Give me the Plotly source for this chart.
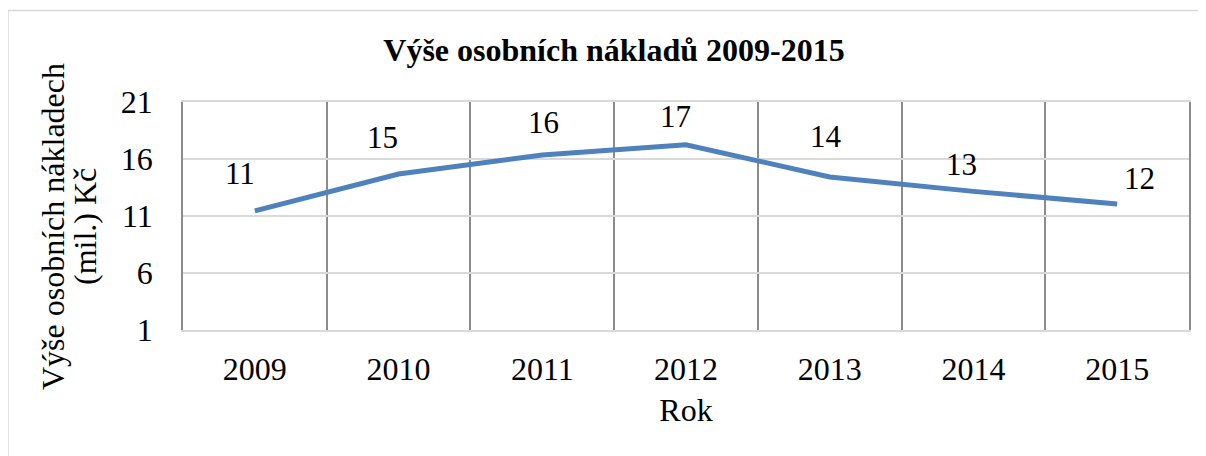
import plotly.graph_objects as go

years = ["2009", "2010", "2011", "2012", "2013", "2014", "2015"]
costs = [11.45, 14.68, 16.35, 17.25, 14.42, 13.16, 12.05]
y_ticks = [1, 6, 11, 16, 21]

title_text = "Výše osobních nákladů 2009-2015"
x_title = "Rok"
y_title_lines = ["Výše osobních nákladech", "(mil.) Kč"]

# label offsets (style only)
label_dx = [-15, -16, 1, -11, -4, -12, 22]
label_dy = [37, 37, 33, 28, 41, 27, 26]

FONT = "Liberation Serif"
OFF = 8  # page body margin
W, H = 1206 - OFF, 456 - OFF
# plot area in page pixels: x 183..1189, y 102..330
ML = 183 - OFF
MR = 1206 - 1189
MT = 102 - OFF
MB = 456 - 330

fig = go.Figure()
fig.add_trace(go.Scatter(
    x=years, y=costs, mode="lines",
    line=dict(color="#4f81bd", width=5),
    hoverinfo="skip", showlegend=False,
))

for i, (yv, dx, dy) in enumerate(zip(costs, label_dx, label_dy)):
    fig.add_annotation(x=i, y=yv, xref="x", yref="y", text=f"{yv:.0f}",
                       showarrow=False, xshift=dx, yshift=dy,
                       xanchor="center", yanchor="middle",
                       font=dict(family=FONT, size=31, color="#000000"))

pw = W - ML - MR
ph = H - MT - MB

def px_x(p):
    return (p - OFF - ML) / pw

def px_y(p):
    return (H - MB - (p - OFF)) / ph

# outer chart border
fig.add_shape(type="rect", xref="paper", yref="paper",
              x0=px_x(8), x1=px_x(1240), y0=px_y(490), y1=px_y(10.5),
              line=dict(color="#d9d9d9", width=1.5), fillcolor="rgba(0,0,0,0)", layer="below")

# y-axis title (two lines)
for line_text, cx in zip(y_title_lines, [53, 85]):
    fig.add_annotation(xref="paper", yref="paper", x=px_x(cx), y=px_y(227),
                       text=line_text, textangle=-90, showarrow=False,
                       xanchor="center", yanchor="middle",
                       font=dict(family=FONT, size=32, color="#000000"))

fig.update_layout(
    width=W, height=H,
    margin=dict(l=ML, r=MR, t=MT, b=MB),
    paper_bgcolor="white", plot_bgcolor="white",
    title=dict(text=f"<b>{title_text}</b>", xref="container", yref="container",
               x=(614 - OFF) / W, y=1 - (50 - OFF) / H, xanchor="center", yanchor="middle",
               font=dict(family=FONT, size=32, color="#000000")),
    font=dict(family=FONT, color="#000000"),
)

fig.update_xaxes(
    type="category", tickson="boundaries", ticks="",
    showgrid=True, gridcolor="#8c8c8c", gridwidth=1.5,
    showline=True, linecolor="#d9d9d9", linewidth=2, mirror=True,
    tickfont=dict(family=FONT, size=32, color="#000000"),
    ticklabelstandoff=10,
    title=dict(text=x_title, font=dict(family=FONT, size=32, color="#000000"), standoff=12),
    range=[-0.5, 6.5], fixedrange=True,
)
fig.update_yaxes(
    range=[1, 21], tickvals=y_ticks, ticks="",
    showgrid=True, gridcolor="#d9d9d9", gridwidth=2,
    showline=True, linecolor="#8c8c8c", linewidth=1.5, mirror=True,
    zeroline=False,
    tickfont=dict(family=FONT, size=32, color="#000000"),
    ticklabelstandoff=22, fixedrange=True,
)

fig.write_html("out.html")
